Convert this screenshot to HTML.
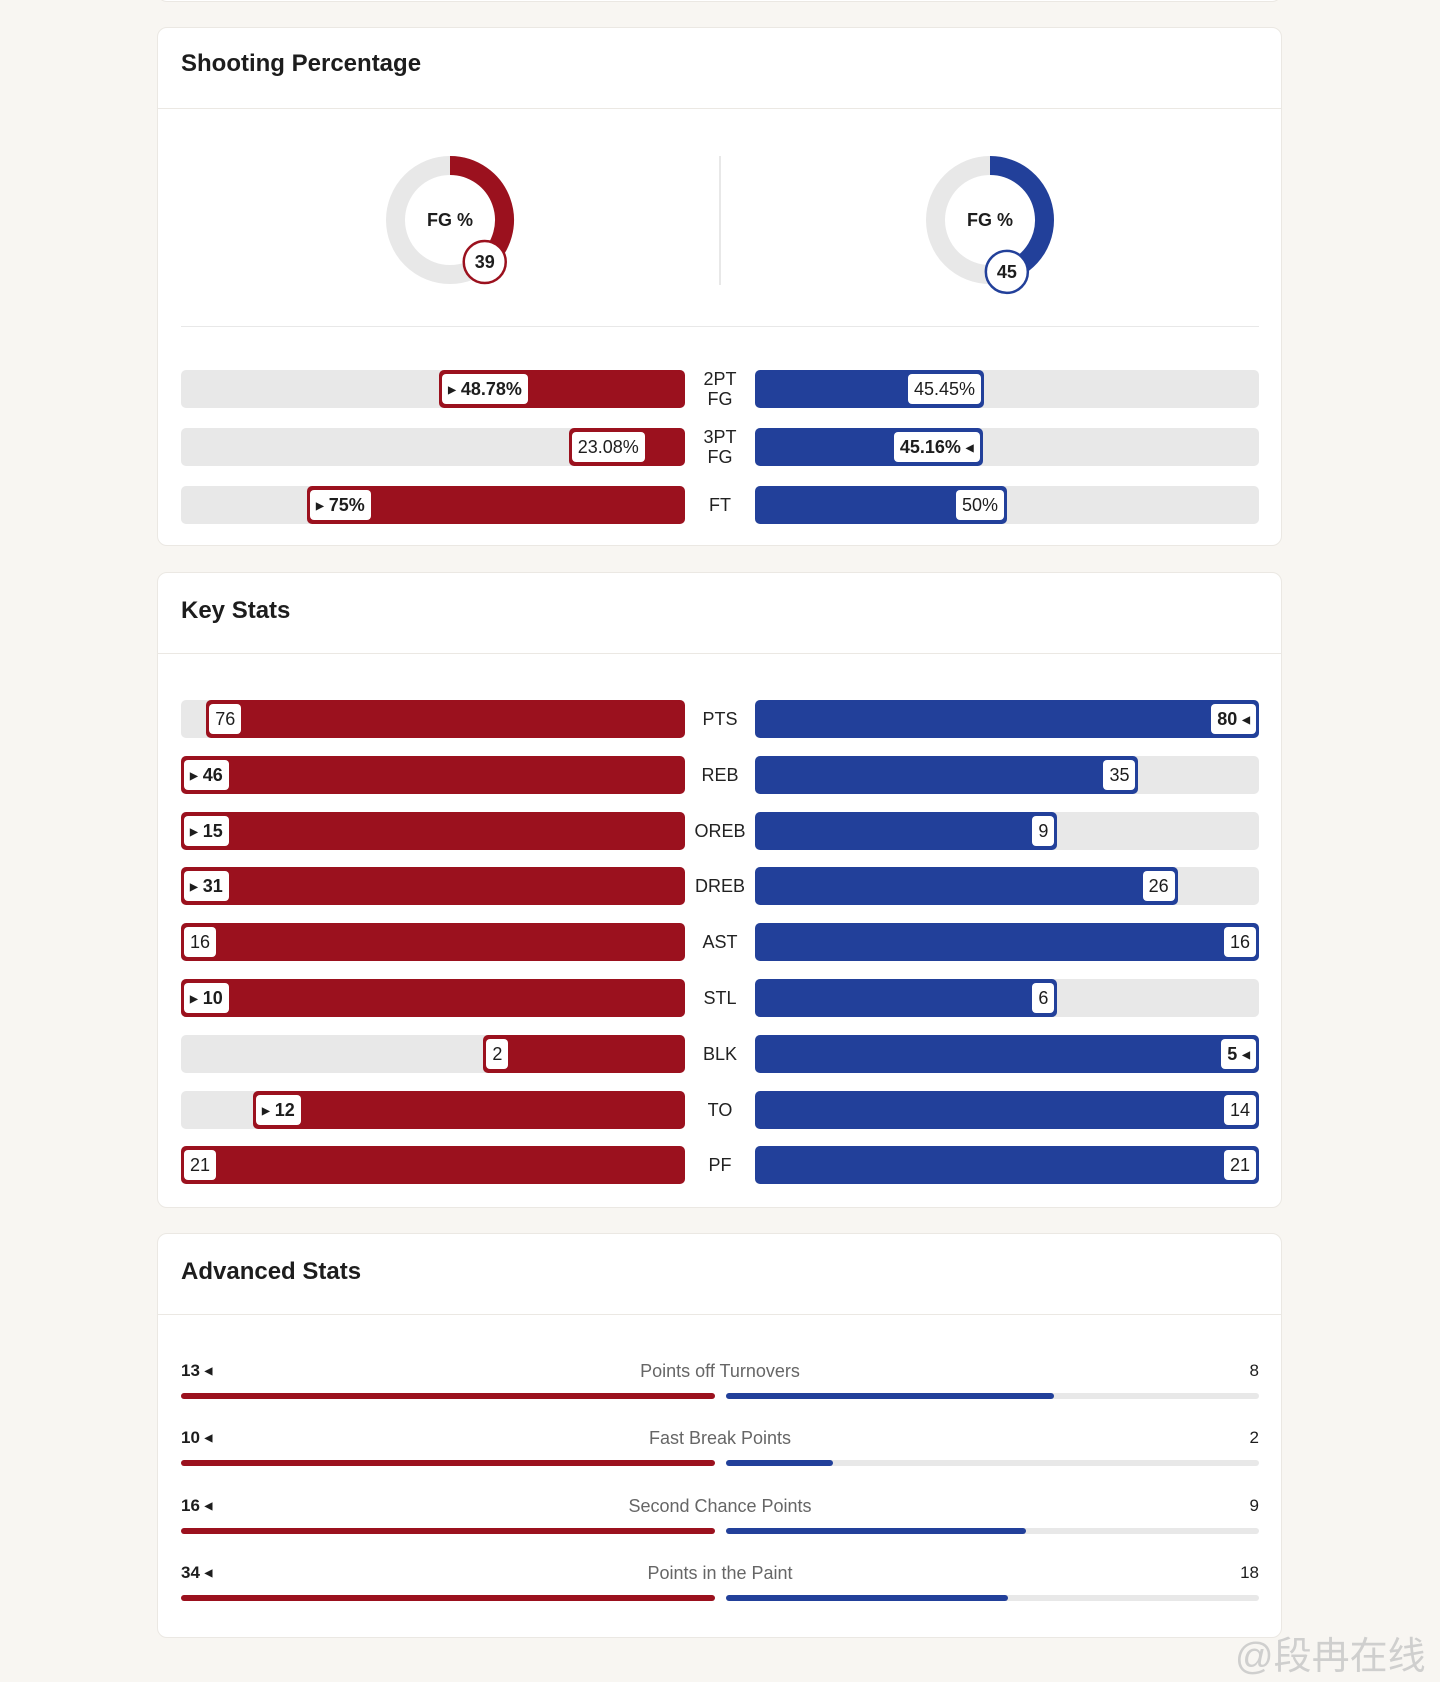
<!DOCTYPE html>
<html><head><meta charset="utf-8">
<style>
body{margin:0;width:1440px;height:1682px;background:#f8f6f2;position:relative;overflow:hidden;font-family:"Liberation Sans",sans-serif;color:#1d1d1d}
.card{position:absolute;left:157px;width:1125px;background:#fff;border:1px solid #ebe8e3;border-radius:10px;box-sizing:border-box}
.title{position:absolute;left:23px;font-size:24px;font-weight:bold;color:#1d1d1d}
.hdiv{position:absolute;left:0;right:0;height:1px;background:#ebe8e3}
.abs{position:absolute;white-space:nowrap}
.track{position:absolute;height:38px;background:#e8e8e8;border-radius:5px}
.fill{position:absolute;top:0;height:38px;border-radius:5px}
.badge{position:absolute;top:4px;height:30px;line-height:30px;background:#fff;border-radius:4px;font-size:18px;padding:0 6px;box-sizing:border-box;white-space:nowrap}
.tri{font-size:10px;vertical-align:2px}
.lbl{position:absolute;width:70px;text-align:center;font-size:18px;line-height:20px;color:#222}
.thin{position:absolute;height:6px;border-radius:3px}
</style></head><body>
<div class="card" style="top:-20px;height:22px"></div>

<div class="card" style="top:27px;height:519px">
  <div class="title" style="top:22px">Shooting Percentage</div>
  <div class="hdiv" style="top:80px"></div>
  <svg class="abs" id="donuts" style="left:0;top:72px" width="1125" height="200"></svg>
  <div class="abs" style="left:561px;top:128px;width:2px;height:129px;background:#e8e8e8"></div>
  <div class="abs" style="left:23px;top:298px;width:1078px;height:1px;background:#e8e8e8"></div>
  <div id="shoot" class="abs" style="left:0;top:0"></div>
</div>

<div class="card" style="top:572px;height:636px">
  <div class="title" style="top:24px">Key Stats</div>
  <div class="hdiv" style="top:80px"></div>
  <div id="keys" class="abs" style="left:0;top:0"></div>
</div>

<div class="card" style="top:1233px;height:405px">
  <div class="title" style="top:24px">Advanced Stats</div>
  <div class="hdiv" style="top:80px"></div>
  <div id="adv" class="abs" style="left:0;top:0"></div>
</div>

<div class="abs" style="left:1235px;top:1625px;font-size:38px;color:rgba(200,200,200,0.85);font-family:'Liberation Sans','Noto Sans CJK SC',sans-serif">@段冉在线</div>

<script>
const RED='#9b111e', BLUE='#22409a';
const fgPct=[39,45];
const shootCats=['2PT<br>FG','3PT<br>FG','FT'];
const shootRed=[48.78,23.08,75];
const shootBlue=[45.45,45.16,50];
const shootRedTxt=['48.78%','23.08%','75%'];
const shootBlueTxt=['45.45%','45.16%','50%'];
const keyCats=['PTS','REB','OREB','DREB','AST','STL','BLK','TO','PF'];
const keyRed=[76,46,15,31,16,10,2,12,21];
const keyBlue=[80,35,9,26,16,6,5,14,21];
const keyWinner=['b','r','r','r','','r','b','r',''];
const shootWinner=['r','b','r'];
const advCats=['Points off Turnovers','Fast Break Points','Second Chance Points','Points in the Paint'];
const advRed=[13,10,16,34];
const advBlue=[8,2,9,18];

const LX0=23, LX1=527, RX0=597, RX1=1101, CX=562;
const W=LX1-LX0;
function el(parent,cls,style,html){const d=document.createElement('div');if(cls)d.className=cls;d.style.cssText=style;if(html!==undefined)d.innerHTML=html;parent.appendChild(d);return d;}

const svg=document.getElementById('donuts');
const NS='http://www.w3.org/2000/svg';
[[292,RED],[832,BLUE]].forEach(([cx,col],i)=>{
  const cy=120,r=54.5,sw=19;
  const bg=document.createElementNS(NS,'circle');
  bg.setAttribute('cx',cx);bg.setAttribute('cy',cy);bg.setAttribute('r',r);bg.setAttribute('fill','none');bg.setAttribute('stroke','#e8e8e8');bg.setAttribute('stroke-width',sw);
  
  
  svg.appendChild(bg);
  const a=fgPct[i]/100*2*Math.PI;
  const x1=cx, y1=cy-r, x2=cx+r*Math.sin(a), y2=cy-r*Math.cos(a);
  const p=document.createElementNS(NS,'path');
  p.setAttribute('d',`M${x1} ${y1} A${r} ${r} 0 ${a>Math.PI?1:0} 1 ${x2} ${y2}`);
  p.setAttribute('fill','none');p.setAttribute('stroke',col);p.setAttribute('stroke-width',sw);
  
  
  svg.appendChild(p);
  const t=document.createElementNS(NS,'text');
  t.setAttribute('x',cx);t.setAttribute('y',cy+6);t.setAttribute('text-anchor','middle');t.setAttribute('font-size','18');t.setAttribute('font-weight','bold');t.setAttribute('fill','#1d1d1d');t.textContent='FG %';
  
  
  svg.appendChild(t);
  const bx=cx+r*Math.sin(a), by=cy-r*Math.cos(a);
  const c=document.createElementNS(NS,'circle');
  c.setAttribute('cx',bx);c.setAttribute('cy',by);c.setAttribute('r',21);c.setAttribute('fill','#fff');c.setAttribute('stroke',col);c.setAttribute('stroke-width',2.5);
  
  
  svg.appendChild(c);
  const v=document.createElementNS(NS,'text');
  v.setAttribute('x',bx);v.setAttribute('y',by+6);v.setAttribute('text-anchor','middle');v.setAttribute('font-size','18');v.setAttribute('font-weight','bold');v.setAttribute('fill','#1d1d1d');v.textContent=fgPct[i];
  
  
  svg.appendChild(v);
});

function barRow(parent,cy,cat,rv,bv,rt,bt,max,win){
  const top=cy-19;
  const lt=el(parent,'track',`left:${LX0}px;top:${top}px;width:${W}px`);
  
  
  const lw=rv/max*W;
  const lf=el(lt,'fill',`right:0;width:${lw}px;background:${RED}`);
  
  
  const rb=win==='r';
  const b1=el(lf,'badge',`left:3px;font-weight:${rb?'bold':'normal'}`,(rb?'<span class="tri">&#9654;</span> ':'')+rt);
  
  
  const rtk=el(parent,'track',`left:${RX0}px;top:${top}px;width:${W}px`);
  
  
  const rw=bv/max*W;
  const rf=el(rtk,'fill',`left:0;width:${rw}px;background:${BLUE}`);
  
  
  const bb=win==='b';
  const b2=el(rf,'badge',`right:3px;font-weight:${bb?'bold':'normal'}`,bt+(bb?' <span class="tri">&#9664;</span>':''));
  
  
  const multi=cat.indexOf('<br>')>=0;
  const l=el(parent,'lbl',`left:${CX-35}px;top:${cy-(multi?20:10)}px`,cat);
  
  
}
const shoot=document.getElementById('shoot');
const shootY=[361,419,477];
shootCats.forEach((c,i)=>barRow(shoot,shootY[i],c,shootRed[i],shootBlue[i],shootRedTxt[i],shootBlueTxt[i],100,shootWinner[i]));

const keys=document.getElementById('keys');
keyCats.forEach((c,i)=>{const m=Math.max(keyRed[i],keyBlue[i]);barRow(keys,146+i*55.8,c,keyRed[i],keyBlue[i],keyRed[i],keyBlue[i],m,keyWinner[i]);});

const adv=document.getElementById('adv');
const AL0=23, AL1=557, AR0=568, AR1=1101, AW=AL1-AL0;
advCats.forEach((c,i)=>{
  const y=137+i*67.3;
  const m=Math.max(advRed[i],advBlue[i]);
  const rv=el(adv,'abs',`left:${AL0}px;top:${y-10}px;font-size:17px;font-weight:bold`,advRed[i]+' <span class="tri">&#9664;</span>');
  
  
  const lb=el(adv,'abs',`left:${CX-200}px;width:400px;text-align:center;top:${y-10}px;font-size:18px;color:#666`,c);
  
  
  const bv=el(adv,'abs',`left:${AR1-100}px;width:100px;text-align:right;top:${y-10}px;font-size:17px`,advBlue[i]);
  
  
  const ty=y+22;
  const lt=el(adv,'thin',`left:${AL0}px;top:${ty}px;width:${AW}px;background:#e8e8e8`);
  
  
  const lf=el(lt,'thin',`right:0;top:0;width:${advRed[i]/m*AW}px;background:${RED}`);
  
  
  const rt=el(adv,'thin',`left:${AR0}px;top:${ty}px;width:${AR1-AR0}px;background:#e8e8e8`);
  
  
  const rf=el(rt,'thin',`left:0;top:0;width:${advBlue[i]/m*(AR1-AR0)}px;background:${BLUE}`);
  
  
});
</script>
</body></html>
